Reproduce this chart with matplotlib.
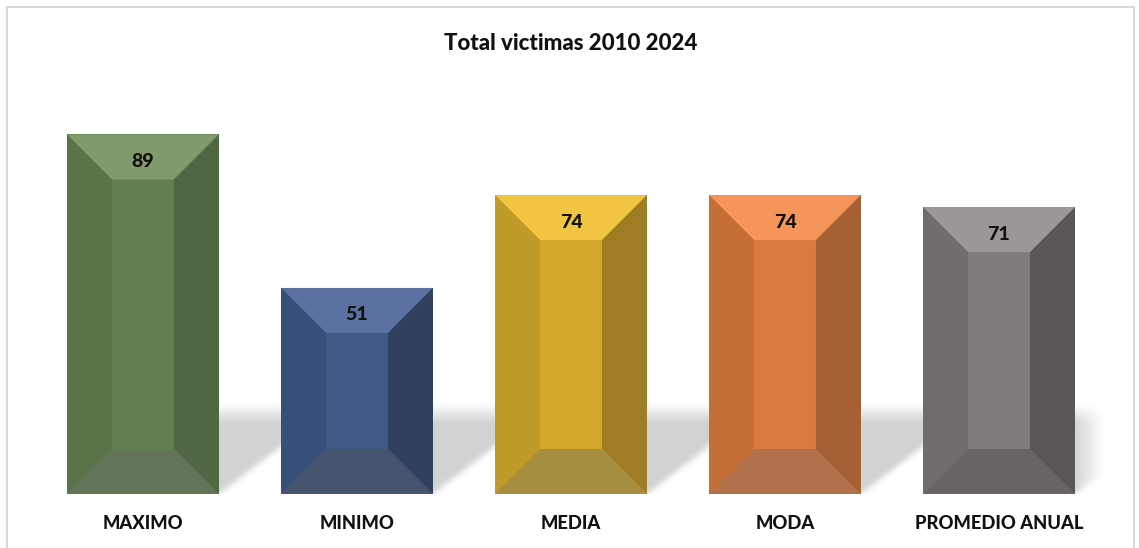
import matplotlib.pyplot as plt
import numpy as np
from matplotlib.patches import Polygon, Rectangle

plt.rcParams['font.family'] = ['Lato', 'DejaVu Sans']

categories = ['MAXIMO', 'MINIMO', 'MEDIA', 'MODA', 'PROMEDIO ANUAL']
values = [89, 51, 74, 74, 71]
title = 'Total victimas 2010 2024'

# bevel face colours: centre, top, left, right, bottom
faces = [
    ('#627F52', '#809A6B', '#5A7349', '#516744', '#637458'),
    ('#405985', '#5B71A1', '#384F7A', '#30415F', '#475470'),
    ('#D3A82A', '#F1C542', '#BF9A28', '#9E7D25', '#A78D3F'),
    ('#D87B41', '#F5955A', '#C56F36', '#A65F34', '#B2704B'),
    ('#807B7A', '#9C9796', '#716C6B', '#5B5655', '#696463'),
]

W, H, DPI = 1139, 548, 100
fig = plt.figure(figsize=(W / DPI, H / DPI), dpi=DPI)
ax = fig.add_axes([36 / W, 54 / H, 1070 / W, 404 / H])
ax.set_xlim(-0.5, 4.5)
ax.set_ylim(0, 100)
for s in ax.spines.values():
    s.set_visible(False)
ax.set_yticks([])

x = np.arange(len(categories))
ax.set_xticks(x, categories, fontsize=13.2, fontweight='black', color='#111111')
ax.tick_params(axis='x', length=0, pad=15)

px_x = 1070 / 5      # pixels per x unit
px_y = 404 / 100     # pixels per y unit
bx = 45 / px_x
by = 45 / px_y

bars = ax.bar(x, values, width=0.71, color=[f[0] for f in faces], zorder=3)

# soft perspective shadow behind the bars
nx, ny = 1070, 101
u = np.arange(nx)[None, :] + 0.5
v = np.arange(ny)[:, None] + 0.5
mask = np.zeros((ny, nx))
slope = 1.3
for r in bars:
    x0 = (r.get_x() + 0.5) * px_x
    x1 = x0 + r.get_width() * px_x
    inside = (u >= x0 + v * slope) & (u <= x1 + v * slope)
    mask = np.maximum(mask, inside.astype(float))
fade = np.clip((90 - v) / 18, 0, 1) * np.clip((1068 - u) / 30, 0, 1)
mask = mask * fade
k = np.ones(7) / 7
for _ in range(2):
    mask = np.apply_along_axis(lambda a: np.convolve(a, k, mode='same'), 1, mask)
    mask = np.apply_along_axis(lambda a: np.convolve(a, k, mode='same'), 0, mask)
img = np.zeros((ny, nx, 4))
img[..., 3] = mask * 0.18
ax.imshow(img, extent=[-0.5, 4.5, 0, ny / px_y], origin='lower',
          aspect='auto', zorder=1, interpolation='bilinear')
ax.set_ylim(0, 100)

for r, f, val in zip(bars, faces, values):
    x0, w, h = r.get_x(), r.get_width(), r.get_height()
    top = [(x0, h), (x0 + w, h), (x0 + w - bx, h - by), (x0 + bx, h - by)]
    left = [(x0, 0), (x0, h), (x0 + bx, h - by), (x0 + bx, by)]
    right = [(x0 + w, 0), (x0 + w, h), (x0 + w - bx, h - by), (x0 + w - bx, by)]
    bottom = [(x0, 0), (x0 + w, 0), (x0 + w - bx, by), (x0 + bx, by)]
    for pts, c in zip([top, left, right, bottom], f[1:]):
        ax.add_patch(Polygon(pts, closed=True, fc=c, ec='none', zorder=4))
    ax.text(x0 + w / 2, h - by * 0.6, str(val), ha='center', va='center',
            fontsize=14, fontweight='black', color='#111111', zorder=5)

fig.text(571 / W, 1 - 44 / H, title, ha='center', va='center',
         fontsize=16, fontweight='black', color='#111111')

# chart frame
fig.add_artist(Rectangle((7 / W, -0.05), (1134 - 7) / W, 1.05 - 7 / H,
                         transform=fig.transFigure, fill=False,
                         ec='#d9d9d9', lw=1.5))

fig.savefig('out.png', dpi=DPI, facecolor='white')
